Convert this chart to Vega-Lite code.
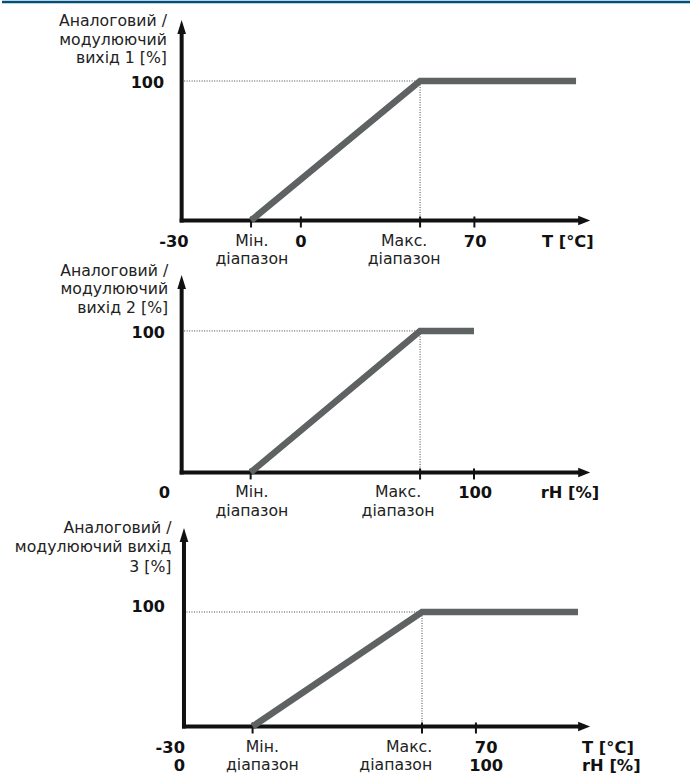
{
  "$schema": "https://vega.github.io/schema/vega-lite/v6.json",
  "padding": 0,
  "spacing": 0,
  "bounds": "flush",
  "config": {"view": {"stroke": null}, "text": {"font": "DejaVu Sans"}},
  "vconcat": [
    {
      "width": 690,
      "height": 262,
      "encoding": {
        "x": {"field": "x", "type": "quantitative", "scale": {"domain": [-44, 125]}, "axis": null},
        "y": {"field": "y", "type": "quantitative", "scale": {"domain": [-30.47, 157.35]}, "axis": null}
      },
      "layer": [
        {"data": {"values": [{"x": -44, "x2": 125, "y": 156.6}]},
         "mark": {"type": "rule", "color": "#004f7d", "strokeWidth": 2.5},
         "encoding": {"x2": {"field": "x2"}}},
        {"data": {"values": [{"x": 0, "x2": 58.4, "y": 100, "y2": 100}, {"x": 58.4, "x2": 58.4, "y": 0, "y2": 100}]},
         "mark": {"type": "rule", "color": "#444", "strokeWidth": 1, "strokeDash": [1, 1.5]},
         "encoding": {"x2": {"field": "x2"}, "y2": {"field": "y2"}}},
        {"data": {"values": [{"x": 0, "x2": 0, "y": 0, "y2": 137}, {"x": 0, "x2": 98, "y": 0, "y2": 0}]},
         "mark": {"type": "rule", "color": "#111", "strokeWidth": 4, "strokeCap": "square"},
         "encoding": {"x2": {"field": "x2"}, "y2": {"field": "y2"}}},
        {"data": {"values": [{"x": 0, "y": 138.7}]},
         "mark": {"type": "point", "shape": "M-0.62,1L0,-1L0.62,1Z", "size": 196, "filled": true, "color": "#111", "opacity": 1}},
        {"data": {"values": [{"x": 98.6, "y": 0}]},
         "mark": {"type": "point", "shape": "M-1,-0.8L1,0L-1,0.8Z", "size": 144, "filled": true, "color": "#111", "opacity": 1}},
        {"data": {"values": [{"x": 17, "y": 0}, {"x": 29.2, "y": 0}, {"x": 58.4, "y": 0}, {"x": 71.7, "y": 0}]},
         "mark": {"type": "tick", "orient": "vertical", "size": 11, "thickness": 2, "color": "#111", "yOffset": 1.5, "opacity": 1}},
        {"data": {"values": [{"x": 17, "y": 0}, {"x": 58.4, "y": 100}, {"x": 96.6, "y": 100}]},
         "mark": {"type": "line", "color": "#5e6262", "strokeWidth": 6.5, "strokeCap": "butt", "strokeJoin": "miter"}},
        {"data": {"values": [{"x": -3.6, "y": 148, "t": "Аналоговий /\nмодулюючий\nвихід 1 [%]"}]},
         "mark": {"type": "text", "align": "right", "baseline": "top", "fontSize": 15.7, "lineHeight": 18.5, "lineBreak": "\n", "color": "#222"},
         "encoding": {"text": {"field": "t"}}},
        {"data": {"values": [{"x": -4.3, "y": 98.6, "t": "100"}]},
         "mark": {"type": "text", "align": "right", "baseline": "middle", "fontSize": 16, "fontWeight": "bold", "color": "#111"},
         "encoding": {"text": {"field": "t"}}},
        {"data": {"values": [{"x": 17.2, "y": 0, "t": "Мін.\nдіапазон"}, {"x": 54.5, "y": 0, "t": "Макс.\nдіапазон"}]},
         "mark": {"type": "text", "align": "center", "baseline": "top", "dy": 13.5, "fontSize": 15.7, "lineHeight": 18.5, "lineBreak": "\n", "color": "#222"},
         "encoding": {"text": {"field": "t"}}},
        {"data": {"values": [{"x": -1.9, "y": 0, "t": "-30"}, {"x": 29.2, "y": 0, "t": "0"}, {"x": 71.9, "y": 0, "t": "70"}, {"x": 94.6, "y": 0, "t": "T [°C]"}]},
         "mark": {"type": "text", "align": "center", "baseline": "top", "dy": 13.5, "fontSize": 16.3, "fontWeight": "bold", "color": "#111"},
         "encoding": {"text": {"field": "t"}}}
      ]
    },
    {
      "width": 690,
      "height": 256,
      "encoding": {
        "x": {"field": "x", "type": "quantitative", "scale": {"domain": [-44, 125]}, "axis": null},
        "y": {"field": "y", "type": "quantitative", "scale": {"domain": [-32.9, 148.0]}, "axis": null}
      },
      "layer": [
        {"data": {"values": [{"x": 0, "x2": 58.4, "y": 100, "y2": 100}, {"x": 58.4, "x2": 58.4, "y": 0, "y2": 100}]},
         "mark": {"type": "rule", "color": "#444", "strokeWidth": 1, "strokeDash": [1, 1.5]},
         "encoding": {"x2": {"field": "x2"}, "y2": {"field": "y2"}}},
        {"data": {"values": [{"x": 0, "x2": 0, "y": 0, "y2": 133}, {"x": 0, "x2": 98, "y": 0, "y2": 0}]},
         "mark": {"type": "rule", "color": "#111", "strokeWidth": 4, "strokeCap": "square"},
         "encoding": {"x2": {"field": "x2"}, "y2": {"field": "y2"}}},
        {"data": {"values": [{"x": 0, "y": 134.6}]},
         "mark": {"type": "point", "shape": "M-0.62,1L0,-1L0.62,1Z", "size": 196, "filled": true, "color": "#111", "opacity": 1}},
        {"data": {"values": [{"x": 98.6, "y": 0}]},
         "mark": {"type": "point", "shape": "M-1,-0.8L1,0L-1,0.8Z", "size": 144, "filled": true, "color": "#111", "opacity": 1}},
        {"data": {"values": [{"x": 16.9, "y": 0}, {"x": 58.4, "y": 0}, {"x": 71.6, "y": 0}]},
         "mark": {"type": "tick", "orient": "vertical", "size": 11, "thickness": 2, "color": "#111", "yOffset": 1.5, "opacity": 1}},
        {"data": {"values": [{"x": 16.9, "y": 0}, {"x": 58.4, "y": 100}, {"x": 71.6, "y": 100}]},
         "mark": {"type": "line", "color": "#5e6262", "strokeWidth": 6.5, "strokeCap": "butt", "strokeJoin": "miter"}},
        {"data": {"values": [{"x": -3.3, "y": 147.3, "t": "Аналоговий /\nмодулюючий\nвихід 2 [%]"}]},
         "mark": {"type": "text", "align": "right", "baseline": "top", "fontSize": 15.7, "lineHeight": 18.5, "lineBreak": "\n", "color": "#222"},
         "encoding": {"text": {"field": "t"}}},
        {"data": {"values": [{"x": -4.1, "y": 98.6, "t": "100"}]},
         "mark": {"type": "text", "align": "right", "baseline": "middle", "fontSize": 16, "fontWeight": "bold", "color": "#111"},
         "encoding": {"text": {"field": "t"}}},
        {"data": {"values": [{"x": 17.2, "y": 0, "t": "Мін.\nдіапазон"}, {"x": 53.0, "y": 0, "t": "Макс.\nдіапазон"}]},
         "mark": {"type": "text", "align": "center", "baseline": "top", "dy": 13, "fontSize": 15.7, "lineHeight": 19, "lineBreak": "\n", "color": "#222"},
         "encoding": {"text": {"field": "t"}}},
        {"data": {"values": [{"x": -4.2, "y": 0, "t": "0"}, {"x": 71.9, "y": 0, "t": "100"}, {"x": 95.1, "y": 0, "t": "rH [%]"}]},
         "mark": {"type": "text", "align": "center", "baseline": "top", "dy": 13, "fontSize": 16.3, "fontWeight": "bold", "color": "#111"},
         "encoding": {"text": {"field": "t"}}}
      ]
    },
    {
      "width": 690,
      "height": 258,
      "encoding": {
        "x": {"field": "x", "type": "quantitative", "scale": {"domain": [-44.57, 124.42]}, "axis": null},
        "y": {"field": "y", "type": "quantitative", "scale": {"domain": [-44.1, 181.2]}, "axis": null}
      },
      "layer": [
        {"data": {"values": [{"x": 0, "x2": 58.3, "y": 100, "y2": 100}, {"x": 58.3, "x2": 58.3, "y": 0, "y2": 100}]},
         "mark": {"type": "rule", "color": "#444", "strokeWidth": 1, "strokeDash": [1, 1.5]},
         "encoding": {"x2": {"field": "x2"}, "y2": {"field": "y2"}}},
        {"data": {"values": [{"x": 0, "x2": 0, "y": 0, "y2": 165}, {"x": 0, "x2": 97.5, "y": 0, "y2": 0}]},
         "mark": {"type": "rule", "color": "#111", "strokeWidth": 4, "strokeCap": "square"},
         "encoding": {"x2": {"field": "x2"}, "y2": {"field": "y2"}}},
        {"data": {"values": [{"x": 0, "y": 167.2}]},
         "mark": {"type": "point", "shape": "M-0.62,1L0,-1L0.62,1Z", "size": 196, "filled": true, "color": "#111", "opacity": 1}},
        {"data": {"values": [{"x": 98.0, "y": 0}]},
         "mark": {"type": "point", "shape": "M-1,-0.8L1,0L-1,0.8Z", "size": 144, "filled": true, "color": "#111", "opacity": 1}},
        {"data": {"values": [{"x": 16.8, "y": 0}, {"x": 58.3, "y": 0}, {"x": 71.5, "y": 0}]},
         "mark": {"type": "tick", "orient": "vertical", "size": 11, "thickness": 2, "color": "#111", "yOffset": 1.5, "opacity": 1}},
        {"data": {"values": [{"x": 16.8, "y": 0}, {"x": 58.3, "y": 100}, {"x": 96.5, "y": 100}]},
         "mark": {"type": "line", "color": "#5e6262", "strokeWidth": 6.5, "strokeCap": "butt", "strokeJoin": "miter"}},
        {"data": {"values": [{"x": -3.07, "y": 179.5, "t": "Аналоговий /\nмодулюючий вихід\n3 [%]"}]},
         "mark": {"type": "text", "align": "right", "baseline": "top", "fontSize": 15.7, "lineHeight": 19.5, "lineBreak": "\n", "color": "#222"},
         "encoding": {"text": {"field": "t"}}},
        {"data": {"values": [{"x": -4.65, "y": 104.4, "t": "100"}]},
         "mark": {"type": "text", "align": "right", "baseline": "middle", "fontSize": 16, "fontWeight": "bold", "color": "#111"},
         "encoding": {"text": {"field": "t"}}},
        {"data": {"values": [{"x": 19.2, "y": 0, "t": "Мін.\nдіапазон"}]},
         "mark": {"type": "text", "align": "center", "baseline": "top", "dy": 14, "fontSize": 15.7, "lineHeight": 18, "lineBreak": "\n", "color": "#222"},
         "encoding": {"text": {"field": "t"}}},
        {"data": {"values": [{"x": 60.8, "y": 0, "t": "Макс.\nдіапазон"}]},
         "mark": {"type": "text", "align": "right", "baseline": "top", "dy": 14, "fontSize": 15.7, "lineHeight": 18, "lineBreak": "\n", "color": "#222"},
         "encoding": {"text": {"field": "t"}}},
        {"data": {"values": [{"x": 0.25, "y": 0, "t": "-30\n0"}]},
         "mark": {"type": "text", "align": "right", "baseline": "top", "dy": 14, "fontSize": 16.3, "fontWeight": "bold", "lineHeight": 18, "lineBreak": "\n", "color": "#111"},
         "encoding": {"text": {"field": "t"}}},
        {"data": {"values": [{"x": 74.0, "y": 0, "t": "70\n100"}]},
         "mark": {"type": "text", "align": "center", "baseline": "top", "dy": 14, "fontSize": 16.3, "fontWeight": "bold", "lineHeight": 18, "lineBreak": "\n", "color": "#111"},
         "encoding": {"text": {"field": "t"}}},
        {"data": {"values": [{"x": 97.5, "y": 0, "t": "T [°C]\nrH [%]"}]},
         "mark": {"type": "text", "align": "left", "baseline": "top", "dy": 14, "fontSize": 16.3, "fontWeight": "bold", "lineHeight": 18, "lineBreak": "\n", "color": "#111"},
         "encoding": {"text": {"field": "t"}}}
      ]
    }
  ]
}
